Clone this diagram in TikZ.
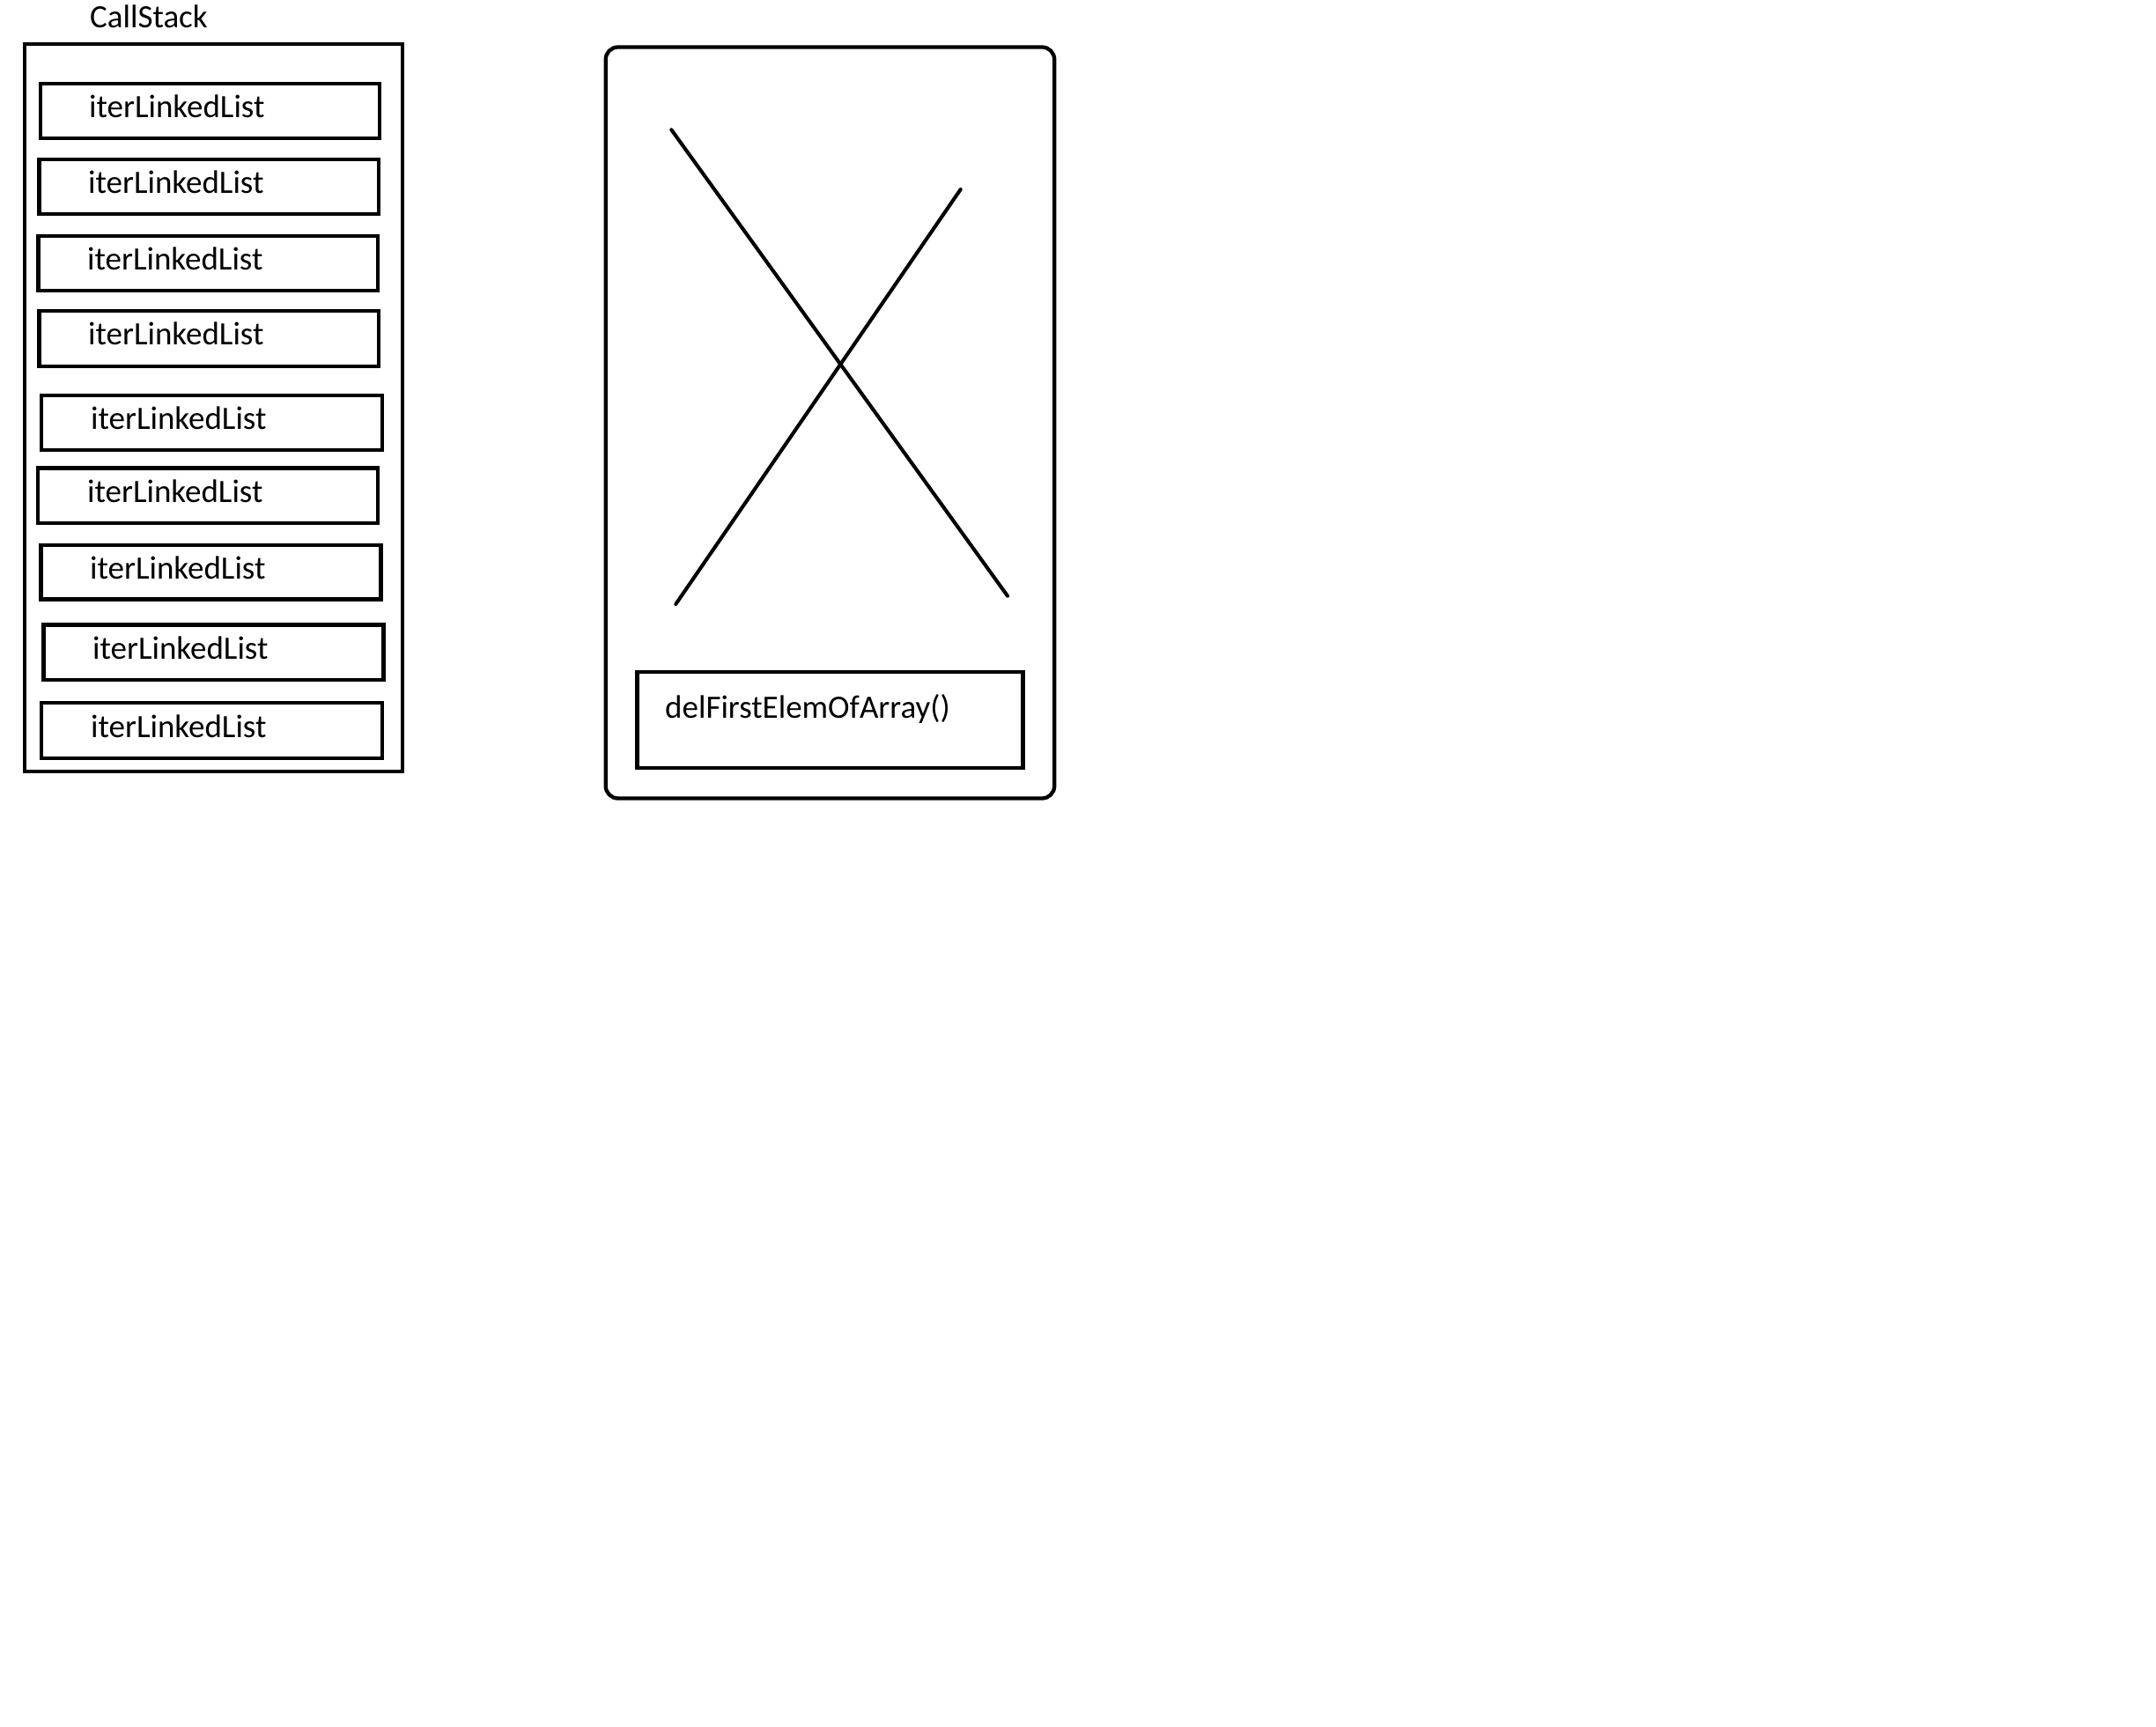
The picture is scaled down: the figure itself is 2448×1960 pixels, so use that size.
\documentclass[tikz,border=0pt]{standalone}
\usepackage{fontspec}
\setmainfont{Carlito}
\begin{document}
\begin{tikzpicture}[x=1pt,y=-1pt,
  frame/.style={draw=black,line width=4.3pt},
  lbl/.style={anchor=base west,inner sep=0pt,font=\fontsize{37}{40}\selectfont},
  cross/.style={draw=black,line width=4.1pt,line cap=round}]
\useasboundingbox[fill=white] (0,0) rectangle (2448,1960);
% call stack
\node[lbl] (title) at (102,31) {CallStack};
\draw[frame] (28,50) rectangle (457,876);
\draw[frame] (46,95) rectangle (431,157);
\node[lbl] (f1) at (101,133) {iterLinkedList};
\draw[frame] (44.5,181) rectangle (430,243);
\node[lbl] (f2) at (100,219) {iterLinkedList};
\draw[frame] (43.5,268) rectangle (429,330);
\node[lbl] (f3) at (99,306) {iterLinkedList};
\draw[frame] (44.5,353) rectangle (430,416);
\node[lbl] (f4) at (100,391) {iterLinkedList};
\draw[frame] (47.3,449) rectangle (434,511);
\node[lbl] (f5) at (103,487) {iterLinkedList};
\draw[frame] (43.3,531.5) rectangle (429,594);
\node[lbl] (f6) at (99,570) {iterLinkedList};
\draw[frame] (46.5,619) rectangle (432.5,680.5);
\node[lbl] (f7) at (102,657) {iterLinkedList};
\draw[frame] (49.5,709.5) rectangle (435.5,772);
\node[lbl] (f8) at (105,748) {iterLinkedList};
\draw[frame] (47.3,798) rectangle (434,861);
\node[lbl] (f9) at (103,837) {iterLinkedList};
% right panel
\draw[frame,rounded corners=14pt] (687.7,53.5) rectangle (1197.2,906.5);
\coordinate (a1) at (762.3,147.3);
\coordinate (a2) at (1144,676.7);
\coordinate (b1) at (1090.7,215);
\coordinate (b2) at (767.3,686);
\draw[cross] (a1) -- (a2);
\draw[cross] (b1) -- (b2);
\draw[frame] (723.5,763) rectangle (1161.5,871.7);
\node[lbl] (del) at (755,815) {delFirstElemOfArray()};
\end{tikzpicture}
\end{document}
